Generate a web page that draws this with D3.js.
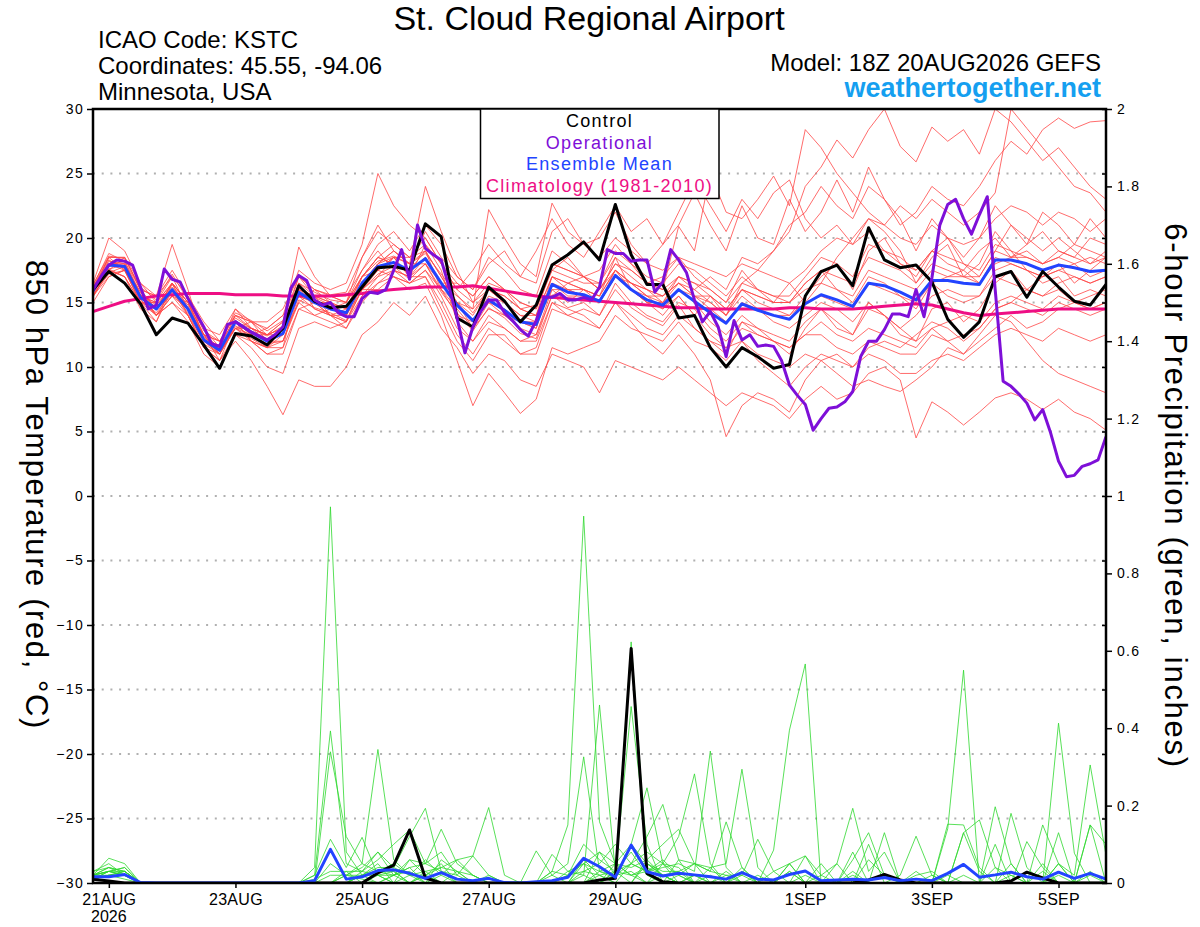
<!DOCTYPE html>
<html>
<head>
<meta charset="utf-8">
<title>St. Cloud Regional Airport</title>
<script src="https://cdn.jsdelivr.net/npm/d3@7"></script>
<style>
    body { margin: 0; background: #fff; }
    text { font-family: "Liberation Sans", Arial, Helvetica, sans-serif; }
    .grid line { stroke: #b0b0b0; stroke-width: 2; stroke-dasharray: 2, 6.7; }
    .axis path { display: none; }
    .axis line { stroke: #000; stroke-width: 1.5; }
    .axis text { font-size: 14px; letter-spacing: 1.3px; fill: #000; }
    .x-axis text { font-size: 16px; letter-spacing: 0.3px; }
</style>
</head>
<body>
<div id="meteogram"></div>
<script>

// model run, 6-hourly ensemble steps and 3-hourly operational steps
var runStart = "2026-08-20T18:00:00Z";
var runEnd = "2026-09-05T18:00:00Z";
var ensStepHours = 6;
var opStepHours = 3;

// x-axis ticks
var tickDates = ["2026-08-21", "2026-08-23", "2026-08-25", "2026-08-27", "2026-08-29", "2026-09-01", "2026-09-03", "2026-09-05"];
var tickLabels = ["21AUG", "23AUG", "25AUG", "27AUG", "29AUG", "1SEP", "3SEP", "5SEP"];
var tempTicks = [-30, -25, -20, -15, -10, -5, 0, 5, 10, 15, 20, 25, 30];
var precipTicks = [0, 0.2, 0.4, 0.6, 0.8, 1, 1.2, 1.4, 1.6, 1.8, 2];

var legendLabels = ["Control", "Operational", "Ensemble Mean", "Climatology (1981-2010)"];

// 850 hPa temperature (C), 6-hourly
var controlTemp = [16.0, 17.4, 16.5, 14.9, 12.5, 13.8, 13.4, 11.7, 9.9, 12.6, 12.4, 11.7, 13.0,
    16.3, 15.1, 14.6, 14.7, 16.2, 17.7, 17.8, 17.5, 21.1, 20.1, 13.8, 13.1, 16.2,
    15.1, 13.5, 14.8, 17.9, 18.7, 19.7, 18.3, 22.6, 18.7, 16.4, 16.4, 13.8, 14.0,
    11.5, 10.0, 11.5, 10.8, 9.9, 10.2, 15.5, 17.4, 17.9, 16.3, 20.8, 18.3, 17.7,
    17.9, 16.6, 13.7, 12.3, 13.5, 17.0, 17.4, 15.4, 17.4, 16.2, 15.1, 14.8, 16.4];

var meanTemp = [15.9, 17.9, 17.8, 15.4, 14.5, 16.0, 14.5, 12.1, 11.3, 13.5, 12.7, 12.0, 12.6,
    15.8, 15.0, 14.5, 14.2, 16.5, 17.8, 18.1, 17.5, 18.4, 16.5, 14.8, 13.6, 15.2,
    14.4, 13.5, 13.3, 16.4, 15.8, 15.6, 15.1, 17.1, 16.0, 15.2, 14.8, 16.0, 15.1,
    14.2, 13.4, 14.9, 14.4, 14.0, 13.7, 14.9, 15.6, 15.2, 14.7, 16.5, 16.3, 15.8,
    15.2, 16.7, 16.7, 16.5, 16.4, 18.3, 18.3, 18.0, 17.5, 17.9, 17.7, 17.4, 17.5];

var climoTemp = [14.3, 14.7, 15.1, 15.3, 15.5, 15.6, 15.7, 15.7, 15.7, 15.6, 15.6, 15.6, 15.5,
    15.5, 15.5, 15.5, 15.6, 15.7, 15.9, 16.0, 16.1, 16.2, 16.2, 16.2, 16.3, 16.1,
    15.9, 15.7, 15.5, 15.4, 15.3, 15.2, 15.1, 15.0, 14.9, 14.8, 14.7, 14.6, 14.6,
    14.5, 14.5, 14.5, 14.5, 14.5, 14.6, 14.6, 14.5, 14.5, 14.5, 14.6, 14.7, 14.8,
    14.9, 14.8, 14.5, 14.2, 14.0, 14.1, 14.2, 14.3, 14.4, 14.5, 14.5, 14.5, 14.5];

// operational run, 3-hourly
var operationalTemp = [16.0, 17.0, 17.9, 18.3, 18.2, 17.9, 16.2, 14.5, 14.8, 17.6, 16.8, 16.6, 15.3,
    14.2, 13.1, 11.8, 11.6, 13.3, 13.5, 13.1, 12.7, 12.4, 12.1, 12.5, 13.1, 16.1,
    17.1, 16.7, 15.2, 14.8, 15.0, 14.2, 13.9, 13.9, 15.3, 15.8, 15.7, 16.0, 17.5,
    19.1, 16.8, 21.0, 19.2, 18.7, 18.3, 16.2, 13.8, 11.1, 13.1, 14.3, 15.2, 15.2,
    14.2, 13.6, 12.9, 12.4, 13.6, 15.4, 15.4, 15.7, 15.2, 15.2, 15.4, 15.2, 16.2,
    19.1, 18.8, 18.8, 18.2, 18.3, 18.3, 15.8, 16.6, 19.1, 18.3, 17.3, 15.2, 13.5,
    14.3, 13.1, 10.8, 13.6, 12.1, 12.5, 11.6, 11.7, 11.6, 10.5, 8.6, 7.8, 7.1,
    5.1, 6.0, 6.8, 6.9, 7.3, 8.1, 10.8, 12.0, 12.0, 12.9, 14.1, 14.1, 13.9,
    16.0, 13.9, 16.9, 21.0, 22.6, 23.0, 21.5, 20.3, 21.8, 23.2, 16.0, 8.9, 8.5,
    7.9, 7.2, 5.9, 6.7, 4.9, 2.7, 1.5, 1.6, 2.3, 2.5, 2.8, 4.6];

// ensemble members, 850 hPa temperature (C), 6-hourly
var memberTemp = [
    [16.0, 18.2, 18.0, 15.8, 14.0, 15.5, 14.0, 12.0, 11.2, 13.0, 12.2, 11.5, 12.5, 16.0, 15.5, 15.0, 14.0, 16.5, 18.0, 19.0, 18.0, 19.0, 17.0, 15.0, 13.5, 15.0, 14.0, 13.0, 12.5, 15.5, 16.5, 17.0, 16.0, 18.0, 17.0, 16.0, 15.0, 17.0, 16.0, 15.0, 14.0, 16.0, 15.0, 14.5, 14.0, 15.5, 17.0, 18.0, 16.0, 19.0, 20.0, 18.0, 17.0, 19.0, 20.0, 18.0, 17.0, 19.0, 21.0, 20.0, 19.0, 20.0, 19.0, 18.0, 19.0],
    [15.5, 17.5, 17.0, 15.0, 13.5, 16.5, 15.0, 12.5, 10.5, 12.0, 10.5, 8.5, 6.3, 9.0, 8.5, 8.5, 10.0, 12.5, 13.5, 15.0, 14.0, 15.5, 13.0, 11.5, 9.5, 11.0, 10.5, 9.0, 8.5, 11.0, 10.5, 10.0, 8.0, 10.5, 10.0, 9.5, 9.0, 10.0, 9.0, 8.0, 7.0, 8.0, 7.5, 7.0, 6.0, 7.5, 8.5, 7.5, 8.0, 9.5, 10.0, 9.0, 4.5, 7.3, 6.5, 5.5, 6.5, 7.6, 8.0, 7.5, 6.7, 7.5, 6.5, 6.0, 5.1],
    [16.2, 18.5, 18.5, 16.5, 15.0, 17.0, 15.5, 13.0, 12.5, 14.5, 13.5, 13.0, 14.0, 17.5, 16.5, 16.0, 16.5, 19.5, 25.0, 22.5, 21.0, 20.0, 18.0, 16.5, 15.5, 17.0, 16.0, 15.0, 14.5, 18.0, 17.5, 17.0, 16.5, 19.0, 18.0, 17.0, 16.5, 18.0, 17.5, 16.5, 15.5, 17.0, 16.0, 15.5, 15.0, 16.5, 17.5, 16.0, 15.0, 17.0, 16.5, 15.5, 15.0, 16.5, 15.5, 15.0, 15.5, 17.0, 16.5, 16.0, 15.5, 16.0, 15.0, 14.5, 15.0],
    [15.8, 17.8, 18.0, 15.5, 15.0, 16.5, 15.0, 13.0, 11.5, 14.0, 13.5, 12.5, 13.0, 15.5, 15.0, 14.0, 14.0, 17.0, 18.5, 18.0, 17.5, 19.0, 17.0, 15.0, 14.0, 16.0, 15.0, 14.0, 14.0, 17.0, 16.0, 15.5, 15.0, 17.5, 16.5, 15.5, 15.5, 16.5, 16.0, 17.0, 16.0, 18.5, 18.0, 19.0, 21.0, 22.0, 24.0, 22.5, 21.5, 24.0, 23.0, 21.0, 22.0, 24.0, 23.0, 22.5, 24.0, 26.0, 27.5, 26.5, 28.4, 29.3, 28.5, 29.0, 29.1],
    [15.6, 17.2, 17.5, 15.0, 14.5, 16.0, 14.5, 12.5, 11.0, 13.5, 12.0, 11.0, 11.5, 16.5, 14.5, 14.0, 13.5, 15.5, 17.0, 18.5, 17.0, 19.5, 17.5, 13.5, 12.0, 14.0, 13.0, 12.0, 12.5, 16.0, 15.0, 16.0, 15.5, 18.5, 16.0, 15.0, 14.0, 15.5, 14.0, 15.5, 14.0, 16.5, 17.5, 19.0, 20.5, 24.0, 25.5, 27.6, 26.2, 28.4, 30.0, 27.1, 25.9, 28.6, 27.5, 28.4, 26.5, 30.0, 29.0, 27.5, 26.0, 27.0, 25.5, 24.0, 23.0],
    [16.5, 20.0, 19.0, 16.5, 15.5, 19.5, 16.0, 12.0, 11.5, 13.0, 13.0, 12.5, 13.5, 19.3, 17.0, 15.5, 15.0, 18.5, 21.0, 19.0, 18.0, 20.5, 18.5, 17.0, 16.0, 18.5, 17.5, 16.0, 15.5, 19.0, 18.0, 17.0, 16.0, 18.0, 17.5, 16.5, 16.0, 20.9, 19.0, 25.0, 22.0, 21.5, 23.0, 24.8, 22.5, 28.4, 27.0, 25.0, 23.5, 22.0, 21.0, 22.5, 21.5, 23.0, 22.0, 21.0, 22.0, 23.5, 30.0, 28.5, 27.0, 25.5, 24.0, 23.5, 22.0],
    [15.0, 17.0, 17.5, 15.5, 14.0, 15.0, 13.5, 11.0, 10.0, 12.5, 12.0, 11.0, 11.0, 14.5, 14.0, 13.5, 13.0, 15.0, 16.5, 17.0, 16.5, 17.5, 15.5, 13.0, 12.0, 13.5, 13.0, 12.0, 12.0, 15.0, 14.5, 14.0, 13.0, 15.0, 13.5, 12.0, 11.0, 12.5, 11.0, 9.0, 4.6, 7.0, 8.0, 7.5, 6.5, 9.0, 10.5, 11.0, 10.0, 11.5, 12.0, 11.5, 12.5, 13.5, 13.0, 12.0, 13.0, 14.5, 15.0, 14.5, 14.0, 15.0, 14.5, 14.0, 14.5],
    [15.8, 18.0, 17.5, 15.0, 14.5, 16.5, 15.0, 12.5, 11.5, 14.5, 13.0, 12.5, 13.5, 16.0, 15.0, 15.0, 14.5, 16.0, 17.5, 18.5, 17.0, 18.0, 16.0, 14.5, 13.0, 15.0, 14.5, 13.5, 13.5, 16.5, 16.0, 15.5, 15.0, 17.0, 16.5, 16.0, 15.5, 16.5, 15.5, 14.5, 13.5, 15.0, 14.5, 13.5, 13.0, 14.0, 15.0, 14.5, 13.5, 15.0, 14.0, 13.0, 12.0, 13.0, 12.0, 11.0, 12.5, 14.0, 13.5, 12.0, 10.5, 9.5, 9.0, 8.5, 8.0],
    [16.0, 18.5, 18.5, 16.0, 15.5, 17.5, 15.5, 13.5, 12.0, 13.5, 12.0, 11.5, 12.0, 15.0, 16.0, 15.5, 15.5, 17.5, 19.0, 17.5, 16.5, 17.0, 15.0, 12.5, 11.0, 13.0, 12.0, 11.0, 11.5, 15.0, 14.0, 14.5, 14.0, 16.5, 15.0, 14.0, 13.5, 15.0, 14.5, 13.0, 12.0, 13.5, 13.0, 12.5, 12.0, 13.5, 14.5, 13.0, 12.5, 14.5, 14.0, 13.0, 14.0, 15.5, 16.0, 15.5, 15.5, 17.5, 18.0, 17.5, 17.0, 17.5, 18.0, 17.0, 17.5],
    [15.5, 17.0, 17.5, 15.5, 15.0, 16.0, 14.0, 11.5, 10.5, 12.5, 11.5, 10.0, 9.5, 13.0, 13.5, 13.0, 13.5, 16.0, 16.0, 17.0, 16.0, 16.5, 14.0, 10.5, 7.0, 9.5, 8.0, 6.4, 7.5, 11.5, 11.0, 11.5, 12.0, 14.0, 13.0, 12.5, 12.0, 13.5, 12.0, 11.5, 10.5, 12.0, 11.0, 10.5, 10.0, 11.0, 10.5, 9.5, 8.5, 9.0, 8.5, 8.1, 9.0, 10.0, 11.5, 11.0, 12.0, 13.0, 14.0, 13.0, 13.5, 14.5, 15.0, 15.5, 16.0],
    [16.2, 18.0, 17.8, 15.2, 14.0, 15.5, 14.5, 12.5, 12.0, 14.0, 13.5, 13.5, 14.5, 17.0, 16.0, 15.0, 14.5, 17.0, 18.5, 19.5, 18.5, 19.5, 18.0, 16.0, 15.0, 16.5, 16.0, 15.0, 14.5, 17.5, 17.0, 16.5, 16.5, 18.5, 17.5, 16.5, 16.0, 17.0, 16.5, 16.0, 15.0, 16.5, 16.0, 15.5, 15.5, 17.0, 18.5, 18.0, 17.0, 19.5, 19.0, 18.5, 17.5, 19.0, 18.5, 18.0, 17.5, 19.5, 19.0, 18.5, 18.0, 19.0, 18.5, 18.0, 18.5],
    [15.7, 17.5, 18.5, 16.0, 15.5, 17.0, 14.5, 12.0, 11.0, 13.5, 13.0, 12.0, 12.0, 15.5, 15.0, 14.5, 14.0, 16.0, 17.0, 17.5, 17.0, 18.5, 16.5, 15.5, 14.5, 16.0, 15.0, 14.0, 13.5, 16.0, 16.0, 16.0, 15.0, 17.0, 16.0, 15.0, 15.0, 16.0, 15.5, 15.0, 14.0, 15.5, 14.5, 14.0, 14.0, 15.0, 15.5, 15.0, 14.5, 16.5, 16.0, 15.5, 14.5, 16.5, 17.0, 17.5, 16.5, 18.0, 18.5, 19.0, 18.0, 18.5, 19.5, 19.0, 18.5],
    [16.0, 18.5, 17.5, 15.0, 14.0, 15.0, 14.0, 11.5, 11.0, 13.5, 12.5, 12.5, 13.0, 16.5, 15.5, 14.0, 13.5, 16.5, 18.0, 18.5, 18.5, 19.0, 16.0, 14.0, 13.5, 15.5, 15.0, 13.5, 13.0, 17.0, 16.5, 16.0, 15.5, 17.5, 16.0, 15.0, 14.5, 16.0, 15.0, 13.5, 12.5, 14.0, 13.0, 12.0, 11.5, 12.5, 13.5, 12.5, 12.0, 13.0, 12.5, 12.0, 11.5, 13.0, 13.5, 14.0, 13.5, 15.0, 15.5, 15.0, 14.5, 15.5, 15.0, 14.5, 15.0],
    [15.4, 17.6, 17.0, 14.5, 13.5, 16.0, 14.5, 12.0, 11.5, 13.0, 13.5, 12.0, 12.5, 15.0, 14.0, 14.5, 15.0, 17.0, 17.5, 17.0, 16.5, 17.5, 16.0, 15.0, 13.0, 14.5, 14.0, 13.5, 13.0, 16.5, 15.5, 15.5, 15.0, 17.0, 16.0, 15.5, 15.0, 16.5, 15.5, 15.5, 14.5, 16.0, 15.5, 15.0, 15.0, 16.5, 17.5, 17.0, 16.5, 18.5, 18.0, 17.5, 16.5, 18.0, 17.5, 17.0, 17.0, 19.0, 18.5, 18.5, 18.0, 18.5, 18.0, 18.5, 18.0],
    [16.3, 18.8, 18.2, 16.0, 14.5, 15.5, 15.0, 12.5, 11.0, 13.0, 12.0, 11.5, 13.0, 17.0, 15.5, 15.0, 14.0, 16.5, 18.0, 19.0, 18.0, 24.0, 20.5, 17.5, 15.0, 16.0, 15.5, 14.5, 14.0, 18.0, 17.5, 17.0, 16.0, 17.5, 16.5, 15.5, 14.5, 15.5, 14.0, 12.5, 11.5, 12.0, 10.5, 9.5, 8.5, 10.0, 11.0, 10.5, 10.0, 11.0, 10.5, 9.5, 9.5, 10.5, 11.0, 10.5, 11.5, 12.5, 13.0, 12.5, 12.0, 13.0, 12.5, 12.0, 12.5],
    [15.8, 17.5, 17.0, 15.0, 15.0, 16.5, 14.0, 11.5, 10.5, 13.5, 12.5, 11.5, 11.5, 14.5, 15.0, 14.0, 13.0, 15.5, 16.5, 17.5, 17.0, 17.0, 14.5, 12.0, 10.5, 12.5, 12.5, 11.0, 11.0, 14.5, 14.0, 13.5, 13.0, 15.0, 14.0, 13.0, 12.5, 14.0, 13.0, 12.0, 11.5, 13.0, 12.5, 12.0, 11.5, 12.5, 12.5, 11.5, 11.0, 12.0, 11.5, 11.0, 11.0, 12.5, 12.0, 12.5, 13.0, 14.5, 15.0, 16.0, 15.5, 16.5, 17.0, 16.5, 17.0],
    [16.0, 18.0, 18.0, 15.5, 14.0, 16.0, 14.5, 12.5, 12.0, 14.0, 13.0, 12.5, 12.5, 16.0, 15.5, 15.5, 15.0, 17.0, 18.5, 18.0, 17.5, 18.5, 16.5, 15.0, 14.5, 22.2, 20.0, 18.0, 17.0, 22.7, 20.5, 19.5, 18.5, 20.0, 19.0, 18.0, 17.5, 18.5, 18.0, 17.5, 17.0, 18.0, 17.5, 17.0, 16.5, 17.5, 19.0, 20.0, 19.5, 21.5, 21.0, 20.0, 19.5, 21.0, 20.0, 19.5, 20.0, 21.5, 22.5, 22.0, 21.0, 22.0, 21.5, 20.5, 21.5],
    [15.6, 17.3, 17.8, 15.8, 14.5, 16.5, 15.0, 12.0, 11.0, 13.0, 12.5, 13.0, 14.0, 15.5, 14.5, 14.0, 14.5, 16.5, 17.5, 18.5, 18.0, 18.0, 16.5, 16.5, 15.5, 17.0, 16.0, 14.5, 14.0, 17.0, 16.5, 16.0, 15.5, 17.5, 16.5, 16.0, 15.5, 17.0, 16.5, 15.5, 14.5, 16.0, 15.5, 15.0, 15.0, 16.0, 16.5, 16.0, 15.5, 17.5, 17.0, 16.5, 16.0, 17.5, 17.0, 17.0, 16.5, 18.5, 18.0, 17.5, 17.0, 17.5, 17.0, 16.5, 17.0],
    [15.9, 17.6, 17.9, 15.6, 14.8, 16.2, 14.8, 12.3, 11.6, 13.8, 13.0, 12.4, 13.2, 16.5, 15.8, 15.2, 15.0, 17.5, 19.5, 20.5, 19.0, 21.0, 19.5, 17.0, 16.0, 18.0, 19.0, 17.0, 16.5, 20.5, 21.5, 19.5, 20.0, 22.0, 19.5, 18.0, 19.5, 21.0, 23.5, 21.0, 19.0, 22.5, 20.0, 19.5, 23.0, 20.5, 22.0, 24.5, 22.0, 25.5, 23.0, 21.5, 19.0, 21.5, 20.0, 18.5, 20.0, 22.5, 21.0, 19.5, 22.0, 21.0, 19.5, 21.5, 20.0],
    [16.1, 18.3, 17.6, 15.2, 14.2, 15.8, 14.2, 11.8, 11.0, 13.2, 12.4, 11.8, 12.0, 15.2, 14.6, 14.2, 13.6, 16.0, 17.2, 17.8, 16.8, 18.0, 15.8, 14.2, 12.8, 14.6, 13.8, 12.6, 12.2, 15.6, 14.6, 15.0, 14.0, 16.0, 14.6, 13.8, 13.2, 14.8, 13.0, 12.0, 11.0, 13.5, 12.5, 12.0, 11.0, 13.0, 14.5, 13.5, 12.5, 15.0, 14.0, 12.5, 12.0, 14.5, 15.0, 13.5, 14.5, 16.5, 17.5, 16.0, 17.0, 18.0, 16.5, 17.5, 18.5],
    [15.7, 17.9, 18.2, 15.6, 14.6, 16.4, 14.6, 12.2, 11.4, 13.6, 12.8, 12.2, 13.0, 16.2, 15.4, 14.8, 14.6, 17.0, 18.2, 18.6, 18.0, 18.8, 17.2, 15.6, 14.2, 16.0, 15.5, 14.5, 14.8, 17.5, 18.5, 17.0, 17.5, 19.5, 18.0, 16.5, 17.0, 18.5, 17.0, 16.0, 15.0, 17.5, 16.0, 15.0, 16.5, 15.0, 16.5, 18.5, 20.0, 21.5, 20.5, 19.0, 16.5, 18.5, 19.5, 17.0, 18.0, 20.5, 19.0, 17.5, 16.5, 17.0, 15.5, 16.0, 15.5],
    [16.4, 18.6, 18.4, 16.2, 15.2, 17.2, 15.2, 12.8, 12.0, 14.2, 13.6, 12.8, 13.6, 17.0, 16.0, 15.6, 15.8, 18.5, 20.5, 19.5, 18.5, 20.0, 18.0, 16.0, 17.5, 19.5, 18.0, 17.0, 19.0, 21.5, 19.5, 18.5, 20.5, 22.5, 20.5, 21.5, 19.5, 22.0, 24.5, 22.5, 20.5, 23.0, 21.5, 23.5, 24.5, 21.5, 20.0, 21.0, 19.5, 20.5, 19.0, 18.0, 17.5, 19.0, 18.0, 17.5, 19.0, 20.0, 18.5, 19.5, 20.5, 19.0, 18.5, 20.0, 19.5]
];

// 6-hour precipitation (inches), 6-hourly
var controlPrecip = [0.01, 0.005, 0, 0, 0, 0, 0, 0, 0, 0, 0, 0, 0,
    0, 0, 0, 0, 0, 0.026, 0.046, 0.137, 0.013, 0, 0, 0, 0,
    0, 0, 0, 0, 0, 0, 0.008, 0.012, 0.606, 0.025, 0.003, 0, 0,
    0, 0, 0, 0, 0, 0, 0, 0, 0, 0, 0.008, 0.022, 0.008,
    0, 0, 0, 0, 0, 0, 0.005, 0.028, 0.013, 0, 0, 0, 0];

var meanPrecip = [0.016, 0.016, 0.022, 0.001, 0, 0, 0, 0, 0, 0, 0, 0, 0,
    0, 0.006, 0.087, 0.01, 0.016, 0.032, 0.034, 0.025, 0.012, 0.027, 0.01, 0.006, 0.012,
    0.001, 0, 0.003, 0.006, 0.015, 0.064, 0.042, 0.015, 0.098, 0.029, 0.018, 0.025, 0.021,
    0.016, 0.01, 0.027, 0.01, 0.008, 0.022, 0.031, 0.006, 0.008, 0.01, 0.008, 0.014, 0.006,
    0.01, 0.006, 0.025, 0.048, 0.015, 0.021, 0.028, 0.016, 0.01, 0.028, 0.012, 0.025, 0.01];

var memberPrecip = [
    [0.03, 0.05, 0.02, 0, 0, 0, 0, 0, 0, 0, 0, 0, 0, 0, 0.04, 0.972, 0.08, 0.02, 0.05, 0, 0, 0.03, 0, 0, 0, 0, 0, 0, 0, 0, 0.02, 0.05, 0, 0.03, 0, 0.06, 0.02, 0, 0, 0, 0, 0.04, 0, 0, 0, 0.02, 0, 0, 0.03, 0, 0, 0, 0, 0.02, 0, 0.13, 0.03, 0, 0, 0, 0, 0.02, 0, 0, 0],
    [0.02, 0.064, 0.05, 0, 0, 0, 0, 0, 0, 0, 0, 0, 0, 0, 0.02, 0.393, 0.05, 0.03, 0.08, 0.04, 0.02, 0.06, 0.02, 0, 0, 0.02, 0, 0, 0, 0.03, 0.15, 0.948, 0.158, 0.05, 0.02, 0, 0.05, 0, 0.02, 0, 0.02, 0, 0, 0, 0.03, 0, 0, 0, 0.02, 0, 0, 0, 0, 0, 0, 0, 0, 0.04, 0.02, 0, 0, 0.05, 0, 0, 0],
    [0.01, 0.03, 0.04, 0, 0, 0, 0, 0, 0, 0, 0, 0, 0, 0, 0, 0.339, 0.12, 0.05, 0.03, 0.02, 0.04, 0, 0.06, 0.03, 0, 0, 0, 0, 0, 0, 0.03, 0.02, 0.46, 0.03, 0.08, 0.02, 0, 0.06, 0, 0.02, 0, 0, 0, 0, 0, 0.07, 0, 0, 0, 0, 0.13, 0, 0, 0, 0.02, 0, 0, 0.1, 0, 0, 0, 0, 0, 0.03, 0],
    [0.02, 0.04, 0.03, 0, 0, 0, 0, 0, 0, 0, 0, 0, 0, 0, 0.02, 0.113, 0.04, 0.118, 0.02, 0.03, 0, 0, 0.02, 0.06, 0.02, 0, 0, 0, 0, 0.02, 0.05, 0.326, 0.03, 0.012, 0.623, 0.05, 0.02, 0, 0, 0, 0, 0, 0, 0, 0, 0, 0, 0, 0, 0, 0, 0.02, 0.121, 0.02, 0, 0, 0, 0, 0, 0, 0.03, 0, 0, 0, 0],
    [0.01, 0.02, 0.02, 0, 0, 0, 0, 0, 0, 0, 0, 0, 0, 0, 0, 0.05, 0.02, 0.05, 0.345, 0.06, 0.02, 0, 0, 0.03, 0, 0, 0, 0, 0, 0, 0.02, 0.1, 0.06, 0.03, 0.456, 0.1, 0, 0.02, 0, 0, 0, 0.03, 0, 0, 0, 0, 0.02, 0, 0, 0, 0, 0, 0, 0, 0.152, 0.15, 0.04, 0, 0, 0, 0, 0, 0, 0.02, 0],
    [0.03, 0.04, 0.02, 0, 0, 0, 0, 0, 0, 0, 0, 0, 0, 0, 0.01, 0.03, 0.03, 0.03, 0.06, 0.1, 0.137, 0.05, 0.08, 0.02, 0.07, 0.02, 0, 0, 0, 0.074, 0.03, 0.05, 0.08, 0.02, 0.1, 0.246, 0.05, 0.02, 0, 0, 0.03, 0, 0, 0, 0, 0, 0.05, 0, 0, 0.06, 0.02, 0, 0, 0, 0.14, 0.55, 0, 0, 0.05, 0, 0, 0, 0, 0, 0],
    [0.02, 0.03, 0.03, 0, 0, 0, 0, 0, 0, 0, 0, 0, 0, 0, 0, 0.02, 0.02, 0.02, 0.04, 0.04, 0.12, 0.193, 0.03, 0, 0, 0, 0, 0, 0, 0.03, 0.02, 0.03, 0.05, 0.1, 0.05, 0.12, 0.203, 0.06, 0.05, 0, 0, 0, 0, 0, 0, 0, 0, 0, 0, 0, 0, 0, 0, 0, 0, 0.13, 0.163, 0.04, 0, 0, 0, 0.13, 0, 0, 0],
    [0.01, 0.02, 0.01, 0, 0, 0, 0, 0, 0, 0, 0, 0, 0, 0, 0, 0, 0.02, 0.04, 0.08, 0.02, 0.06, 0.05, 0.139, 0.05, 0.02, 0, 0, 0, 0, 0, 0, 0.02, 0, 0.05, 0.04, 0.06, 0.1, 0.139, 0.05, 0.04, 0, 0, 0, 0, 0.05, 0, 0, 0, 0, 0.1, 0, 0, 0.03, 0, 0, 0, 0, 0.197, 0.05, 0, 0, 0, 0, 0.15, 0],
    [0.02, 0.03, 0.02, 0, 0, 0, 0, 0, 0, 0, 0, 0, 0, 0, 0, 0, 0, 0.03, 0.02, 0, 0.06, 0.02, 0.04, 0.06, 0.07, 0.195, 0.02, 0, 0, 0, 0, 0.05, 0.03, 0.02, 0.05, 0.03, 0.05, 0.12, 0.282, 0.05, 0, 0, 0, 0, 0.03, 0, 0, 0, 0, 0, 0, 0, 0, 0, 0, 0, 0, 0, 0.18, 0.04, 0, 0, 0, 0, 0],
    [0.02, 0.04, 0.03, 0, 0, 0, 0, 0, 0, 0, 0, 0, 0, 0, 0, 0, 0, 0.02, 0.03, 0.05, 0.02, 0.03, 0.04, 0.03, 0.02, 0, 0, 0, 0.083, 0.02, 0, 0, 0.03, 0.05, 0.02, 0.03, 0.04, 0.05, 0.03, 0.341, 0.04, 0, 0, 0, 0, 0, 0, 0.05, 0, 0, 0, 0, 0, 0, 0, 0, 0, 0, 0, 0.107, 0.04, 0, 0, 0, 0],
    [0.01, 0.02, 0.02, 0, 0, 0, 0, 0, 0, 0, 0, 0, 0, 0, 0, 0, 0, 0.02, 0, 0.02, 0.04, 0.05, 0.03, 0.02, 0, 0, 0, 0, 0, 0, 0, 0, 0.08, 0.05, 0.1, 0.05, 0.03, 0.03, 0.05, 0.03, 0.158, 0.04, 0, 0, 0, 0, 0, 0, 0.08, 0, 0, 0, 0, 0, 0, 0, 0, 0, 0, 0, 0.15, 0.05, 0, 0, 0],
    [0.02, 0.03, 0.02, 0, 0, 0, 0, 0, 0, 0, 0, 0, 0, 0, 0, 0, 0.03, 0, 0.03, 0.03, 0, 0.02, 0.05, 0, 0, 0, 0, 0, 0, 0, 0, 0, 0.02, 0.03, 0.05, 0.08, 0.05, 0.04, 0, 0.04, 0.05, 0.294, 0.04, 0, 0, 0, 0, 0, 0, 0, 0, 0, 0, 0, 0, 0, 0, 0, 0, 0, 0, 0.413, 0.077, 0, 0],
    [0.01, 0.03, 0.04, 0, 0, 0, 0, 0, 0, 0, 0, 0, 0, 0, 0, 0, 0, 0, 0.02, 0.02, 0.03, 0, 0, 0, 0, 0, 0, 0, 0, 0, 0, 0.03, 0.02, 0, 0.05, 0.03, 0.06, 0.02, 0.05, 0.03, 0.02, 0.02, 0.113, 0.03, 0, 0, 0, 0, 0, 0, 0, 0, 0, 0, 0, 0, 0, 0, 0, 0, 0, 0.05, 0.02, 0.305, 0.072],
    [0.02, 0.02, 0.03, 0, 0, 0, 0, 0, 0, 0, 0, 0, 0, 0, 0, 0, 0, 0.02, 0.02, 0, 0.02, 0.02, 0, 0, 0, 0, 0, 0, 0, 0, 0, 0, 0, 0.03, 0.02, 0.04, 0.02, 0, 0, 0, 0, 0, 0, 0.085, 0.395, 0.566, 0, 0, 0, 0, 0, 0, 0, 0, 0, 0, 0, 0, 0, 0, 0, 0, 0, 0.15, 0.1],
    [0.01, 0.02, 0.03, 0, 0, 0, 0, 0, 0, 0, 0, 0, 0, 0, 0, 0, 0, 0, 0, 0, 0, 0, 0, 0, 0, 0, 0, 0, 0, 0, 0, 0.06, 0.02, 0, 0, 0.05, 0.02, 0.03, 0, 0, 0, 0, 0.02, 0, 0.05, 0.07, 0.02, 0.05, 0.193, 0.03, 0.08, 0, 0, 0, 0, 0.02, 0, 0, 0, 0, 0, 0, 0, 0, 0],
    [0.02, 0.03, 0.02, 0, 0, 0, 0, 0, 0, 0, 0, 0, 0, 0, 0, 0, 0.02, 0.01, 0, 0.02, 0, 0.02, 0, 0, 0, 0, 0, 0, 0, 0, 0, 0, 0, 0.02, 0.03, 0, 0.02, 0, 0.02, 0, 0, 0.02, 0, 0.03, 0.05, 0, 0, 0, 0.06, 0.13, 0.02, 0, 0.02, 0.03, 0, 0, 0, 0, 0.02, 0, 0.05, 0, 0, 0, 0]
];


/*
 *  Meteogram - Object constructor function
 *  @param _parentElement   -- HTML element in which to draw the chart
 */

Meteogram = function(_parentElement) {

    this.parentElement = _parentElement;
    this.initVis();
};


/*
 *  Initialize visualization
 */

Meteogram.prototype.initVis = function() {
    var vis = this;
    vis.margin = { top: 109, right: 94, bottom: 44, left: 93 };

    vis.width = 1200 - vis.margin.left - vis.margin.right;
    vis.height = 927 - vis.margin.top - vis.margin.bottom;

    vis.root = d3.select("#" + vis.parentElement).append("svg")
        .attr("width", 1200)
        .attr("height", 927);

    vis.svg = vis.root.append("g")
        .attr("transform", "translate(" + vis.margin.left + "," + vis.margin.top + ")");

    // Scales and axes
    vis.x = d3.scaleUtc()
        .domain([new Date(runStart), new Date(runEnd)])
        .range([0, vis.width]);

    vis.yTemp = d3.scaleLinear()
        .domain([-30, 30])
        .range([vis.height, 0]);

    vis.yPrecip = d3.scaleLinear()
        .domain([0, 2])
        .range([vis.height, 0]);

    vis.xAxis = d3.axisBottom(vis.x)
        .tickValues(tickDates.map(function(d) { return new Date(d + "T00:00:00Z"); }))
        .tickFormat(function(d, i) { return tickLabels[i]; })
        .tickSize(5)
        .tickPadding(6);

    vis.yAxisLeft = d3.axisLeft(vis.yTemp)
        .tickValues(tempTicks)
        .tickSize(6)
        .tickPadding(3);

    vis.yAxisRight = d3.axisRight(vis.yPrecip)
        .tickValues(precipTicks)
        .tickFormat(function(d) { return +d.toFixed(1); })
        .tickSize(6)
        .tickPadding(5);

    vis.svg.append("clipPath")
        .attr("id", "plot-clip")
        .append("rect")
        .attr("width", vis.width)
        .attr("height", vis.height);

    vis.plot = vis.svg.append("g")
        .attr("clip-path", "url(#plot-clip)");

    vis.lineTemp = d3.line()
        .x(function(d) { return vis.x(d.time); })
        .y(function(d) { return vis.yTemp(d.value); });

    vis.linePrecip = d3.line()
        .x(function(d) { return vis.x(d.time); })
        .y(function(d) { return vis.yPrecip(d.value); });

    vis.wrangleData();
};


/*
 *  Data wrangling
 */

Meteogram.prototype.wrangleData = function() {
    var vis = this;
    var start = new Date(runStart);

    function series(values, stepHours) {
        return values.map(function(v, i) {
            return { time: d3.utcHour.offset(start, i * stepHours), value: v };
        });
    }

    vis.members = memberTemp.map(function(m) { return series(m, ensStepHours); });
    vis.precipMembers = memberPrecip.map(function(m) { return series(m, ensStepHours); });
    vis.climo = series(climoTemp, ensStepHours);
    vis.operational = series(operationalTemp, opStepHours);
    vis.control = series(controlTemp, ensStepHours);
    vis.mean = series(meanTemp, ensStepHours);
    vis.controlP = series(controlPrecip, ensStepHours);
    vis.meanP = series(meanPrecip, ensStepHours);

    vis.updateVis();
};


/*
 *  The drawing function
 */

Meteogram.prototype.updateVis = function() {
    var vis = this;

    // dotted grid at the temperature ticks
    vis.plot.append("g")
        .attr("class", "grid")
        .selectAll("line")
        .data(tempTicks.slice(1, -1))
        .enter().append("line")
        .attr("x1", 0)
        .attr("x2", vis.width)
        .attr("y1", function(d) { return vis.yTemp(d); })
        .attr("y2", function(d) { return vis.yTemp(d); });

    vis.plot.selectAll(".member")
        .data(vis.members)
        .enter().append("path")
        .attr("class", "member")
        .attr("d", vis.lineTemp)
        .attr("fill", "none")
        .attr("stroke", "#ff4646")
        .attr("stroke-width", 0.8);

    vis.plot.selectAll(".precip-member")
        .data(vis.precipMembers)
        .enter().append("path")
        .attr("class", "precip-member")
        .attr("d", vis.linePrecip)
        .attr("fill", "none")
        .attr("stroke", "#2fd82f")
        .attr("stroke-width", 0.8);

    var thick = [
        { data: vis.climo, line: vis.lineTemp, color: "#ee0e84" },
        { data: vis.controlP, line: vis.linePrecip, color: "#000000" },
        { data: vis.meanP, line: vis.linePrecip, color: "#2244ff" },
        { data: vis.mean, line: vis.lineTemp, color: "#2244ff" },
        { data: vis.control, line: vis.lineTemp, color: "#000000" },
        { data: vis.operational, line: vis.lineTemp, color: "#7e0fd8" }
    ];

    thick.forEach(function(s) {
        vis.plot.append("path")
            .datum(s.data)
            .attr("d", s.line)
            .attr("fill", "none")
            .attr("stroke", s.color)
            .attr("stroke-width", 3)
            .attr("stroke-linejoin", "round");
    });

    // axes
    vis.svg.append("g")
        .attr("class", "x-axis axis")
        .attr("transform", "translate(0," + vis.height + ")")
        .call(vis.xAxis);

    vis.svg.append("text")
        .attr("x", vis.x(new Date(tickDates[0] + "T00:00:00Z")))
        .attr("y", vis.height + 39)
        .attr("text-anchor", "middle")
        .style("font-size", "16px")
        .text("2026");

    vis.svg.append("g")
        .attr("class", "y-axis axis")
        .call(vis.yAxisLeft);

    vis.svg.append("g")
        .attr("class", "y-axis-right axis")
        .attr("transform", "translate(" + vis.width + ",0)")
        .call(vis.yAxisRight);

    vis.svg.append("g")
        .attr("class", "axis")
        .attr("transform", "translate(" + vis.width + ",0)")
        .call(d3.axisLeft(vis.yTemp).tickValues(tempTicks).tickSize(4).tickFormat(""));

    vis.svg.append("rect")
        .attr("width", vis.width)
        .attr("height", vis.height)
        .attr("fill", "none")
        .attr("stroke", "#000")
        .attr("stroke-width", 2.5);

    // legend
    var legendColors = ["#000000", "#7e0fd8", "#2244ff", "#ee0e84"];
    var legend = vis.svg.append("g")
        .attr("transform", "translate(" + 387.5 + ",0)");

    legend.append("rect")
        .attr("width", 238.5)
        .attr("height", 89.5)
        .attr("fill", "#fff")
        .attr("stroke", "#000")
        .attr("stroke-width", 1.5);

    legend.selectAll(".legend-label")
        .data(legendLabels)
        .enter().append("text")
        .attr("class", "legend-label")
        .attr("x", 119)
        .attr("y", function(d, i) { return 18 + i * 21.7; })
        .attr("text-anchor", "middle")
        .style("font-size", "18px")
        .style("letter-spacing", "1.3px")
        .attr("fill", function(d, i) { return legendColors[i]; })
        .text(function(d) { return d; });

    // axis titles
    vis.root.append("text")
        .attr("transform", "translate(26,495) rotate(90)")
        .attr("text-anchor", "middle")
        .style("font-size", "31px")
        .style("letter-spacing", "1.6px")
        .text("850 hPa Temperature (red, °C)");

    vis.root.append("text")
        .attr("transform", "translate(1165,496) rotate(90)")
        .attr("text-anchor", "middle")
        .style("font-size", "31px")
        .style("letter-spacing", "1.7px")
        .text("6-hour Precipitation (green, inches)");

    // header
    vis.root.append("text")
        .attr("x", 589)
        .attr("y", 30)
        .attr("text-anchor", "middle")
        .style("font-size", "34px")
        .text("St. Cloud Regional Airport");

    var info = ["ICAO Code: KSTC", "Coordinates: 45.55, -94.06", "Minnesota, USA"];
    vis.root.selectAll(".info")
        .data(info)
        .enter().append("text")
        .attr("class", "info")
        .attr("x", 98)
        .attr("y", function(d, i) { return 48 + i * 26; })
        .style("font-size", "24px")
        .text(function(d) { return d; });

    vis.root.append("text")
        .attr("x", 1101)
        .attr("y", 71)
        .attr("text-anchor", "end")
        .style("font-size", "24px")
        .text("Model: 18Z 20AUG2026 GEFS");

    vis.root.append("text")
        .attr("x", 1101)
        .attr("y", 97)
        .attr("text-anchor", "end")
        .style("font-size", "27px")
        .style("font-weight", "bold")
        .attr("fill", "#159ff0")
        .text("weathertogether.net");
};

var meteogram = new Meteogram("meteogram");

</script>
</body>
</html>
